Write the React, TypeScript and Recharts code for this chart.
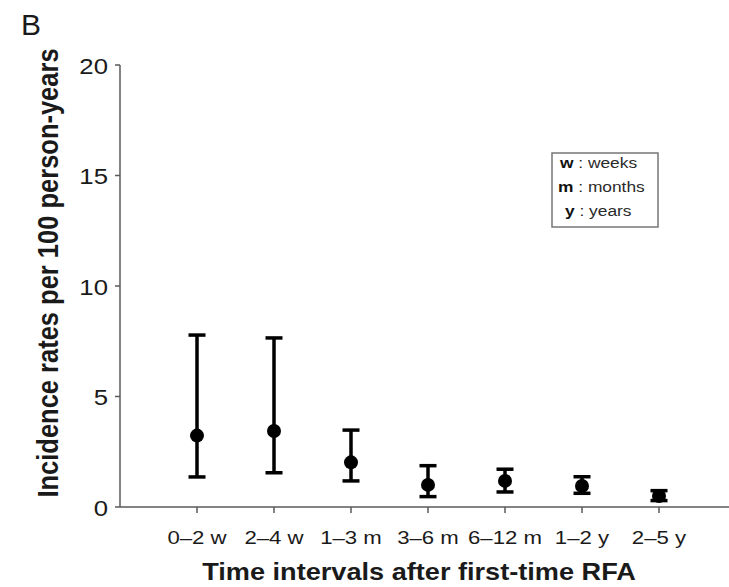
import React from 'react';
import { ScatterChart, Scatter, XAxis, YAxis, ErrorBar, Customized } from 'recharts';

const categories = ['0–2 w', '2–4 w', '1–3 m', '3–6 m', '6–12 m', '1–2 y', '2–5 y'];
const rates = [3.23, 3.44, 2.02, 1.0, 1.18, 0.95, 0.5];
const lowerCI = [1.36, 1.55, 1.18, 0.47, 0.68, 0.62, 0.29];
const upperCI = [7.78, 7.65, 3.48, 1.87, 1.71, 1.37, 0.74];
const yTicks = [0, 5, 10, 15, 20];
const legendItems = [
  { key: 'w', text: ' : weeks' },
  { key: 'm', text: ' : months' },
  { key: 'y', text: ' : years' },
];

const data = categories.map((c, i) => ({
  idx: i + 1,
  label: c,
  rate: rates[i],
  err: [rates[i] - lowerCI[i], upperCI[i] - rates[i]],
}));

const FONT = '"Liberation Sans", Arial, Helvetica, sans-serif';
const AXIS = '#5a5a5a';

function SText({ x, y, sx = 1.2, rotate = 0, anchor = 'middle', size, weight = 'normal', children }: any) {
  return (
    <text
      transform={`translate(${x},${y}) scale(${sx},1)${rotate ? ` rotate(${rotate})` : ''}`}
      textAnchor={anchor}
      fontFamily={FONT}
      fontSize={size}
      fontWeight={weight}
      fill="#1a1a1a"
    >
      {children}
    </text>
  );
}

const XTick = (p: any) => (
  <SText x={p.x} y={p.y + 28.5} size={18.5} sx={1.2}>
    {categories[p.payload.value - 1]}
  </SText>
);

const YTick = (p: any) => (
  <SText x={p.x} y={p.y + 8.5} size={23} sx={1.12} anchor="end">
    {p.payload.value}
  </SText>
);

const Dot = (p: any) => <circle cx={p.cx} cy={p.cy} r={7} fill="#000" />;

const Decor = () => (
  <g>
    <text x={21} y={35} fontFamily={FONT} fontSize={30} fill="#1a1a1a">B</text>
    <SText x={58} y={273} rotate={-90} size={25.5} weight="bold" sx={1.15}>
      Incidence rates per 100 person-years
    </SText>
    <SText x={419} y={580} size={23} weight="bold" sx={1.18}>
      Time intervals after first-time RFA
    </SText>
    <rect x={552} y={153} width={106} height={74} fill="#fff" stroke="#777" strokeWidth={1.5} />
    {legendItems.map((it, i) => (
      <text
        key={it.key}
        transform={`translate(${[560, 558, 565][i]},${168 + i * 24}) scale(1.12,1)`}
        fontFamily={FONT}
        fontSize={15.5}
        fill="#2a2a2a"
      >
        <tspan fontWeight="bold" fill="#111">{it.key}</tspan>
        <tspan>{it.text}</tspan>
      </text>
    ))}
  </g>
);

export default function App() {
  return (
    <div style={{ position: 'absolute', left: 0, top: 0, width: 729, height: 587, overflow: 'hidden', background: '#fff' }}>
      <ScatterChart width={736} height={587} margin={{ top: 65, right: 0, bottom: 0, left: 0 }}>
        <XAxis
          type="number"
          dataKey="idx"
          domain={[0, 8]}
          ticks={[1, 2, 3, 4, 5, 6, 7]}
          allowDataOverflow
          height={80}
          tickSize={6}
          tickMargin={2}
          axisLine={{ stroke: AXIS, strokeWidth: 1.5 }}
          tickLine={{ stroke: AXIS, strokeWidth: 1.5 }}
          tick={<XTick />}
        />
        <YAxis
          type="number"
          dataKey="rate"
          domain={[0, 20]}
          ticks={yTicks}
          width={120}
          tickSize={5}
          tickMargin={7}
          axisLine={{ stroke: AXIS, strokeWidth: 1.5 }}
          tickLine={{ stroke: AXIS, strokeWidth: 1.5 }}
          tick={<YTick />}
        />
        <Scatter data={data} shape={<Dot />} isAnimationActive={false}>
          <ErrorBar dataKey="err" direction="y" width={8.5} strokeWidth={3.5} stroke="#000" isAnimationActive={false} />
        </Scatter>
        <Customized component={Decor} />
      </ScatterChart>
    </div>
  );
}
